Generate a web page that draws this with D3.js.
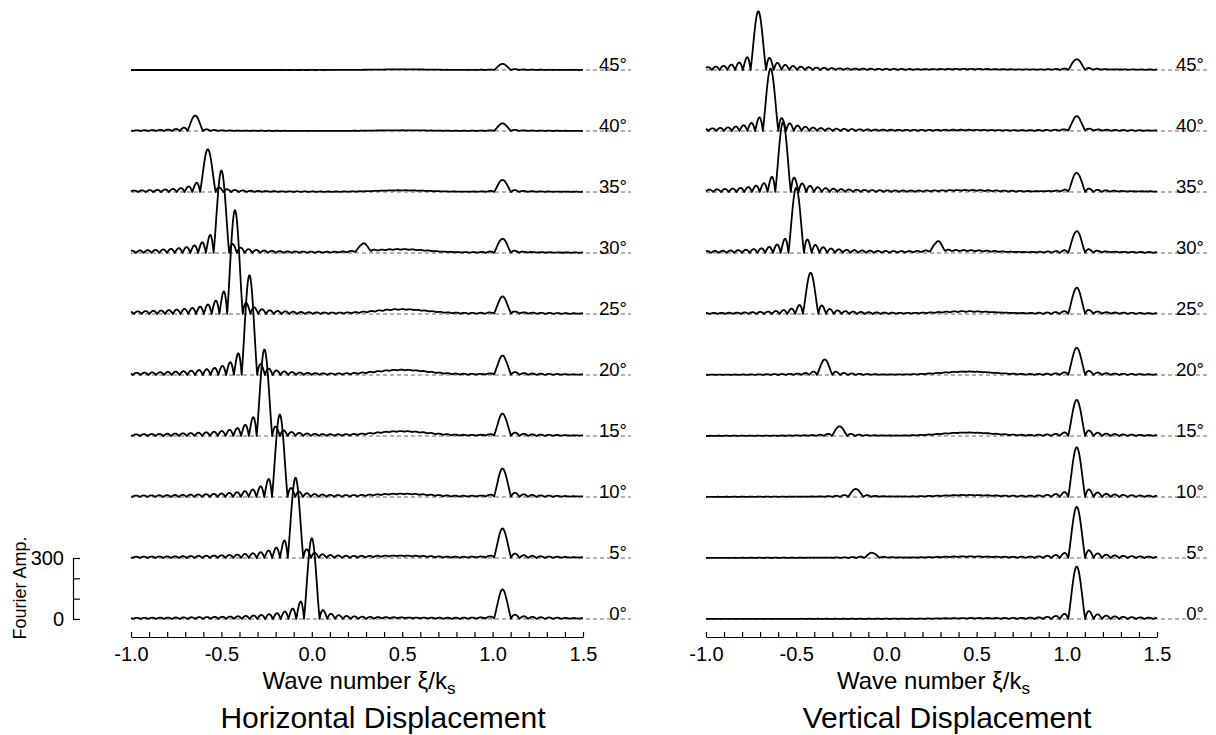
<!DOCTYPE html>
<html>
<head>
<meta charset="utf-8">
<script src="https://cdn.jsdelivr.net/npm/d3@7"></script>
<style>
  body { margin: 0; background: #fff; }
  svg text { font-family: "Liberation Sans", Arial, Helvetica, sans-serif; fill: #000; }
</style>
</head>
<body>
<svg id="chart" width="1216" height="735"></svg>
<script>
// ---- data -------------------------------------------------------------
// incidence angles (deg), one spectrum per angle, stacked bottom to top
const angles = [0, 5, 10, 15, 20, 25, 30, 35, 40, 45];

// Horizontal displacement: incident-wave peak (position, amplitude)
const hPeakPos  = [0.0, -0.09, -0.177, -0.262, -0.345, -0.425, -0.5, -0.575, -0.645, -0.71];
const hPeakAmp  = [396, 394, 405, 425, 490, 510, 405, 210, 76, 0];
// surface-wave peak near xi/ks = 1.055
const hRefAmp   = [143, 143, 138, 108, 93, 84, 69, 59, 37, 30];
// broad low hump around xi/ks = 0.5
const hHumpAmp  = [2, 7, 12, 20, 22, 20, 15, 7, 3, 3];
// small secondary peak near xi/ks = 0.285
const hSmallAmp = [0, 0, 0, 0, 0, 0, 40, 0, 0, 0];

// Vertical displacement
const vPeakPos  = [0.0, -0.08, -0.17, -0.26, -0.342, -0.42, -0.5, -0.573, -0.642, -0.71];
const vPeakAmp  = [0, 25, 39, 47, 76, 202, 320, 342, 307, 288];
const vRefAmp   = [258, 251, 244, 177, 133, 128, 106, 93, 71, 52];
const vHumpAmp  = [2, 5, 7, 15, 15, 10, 7, 5, 2, 2];
const vSmallAmp = [0, 0, 0, 0, 0, 0, 50, 0, 0, 0];

const refPos = 1.055;
const smallPos = 0.285;

// axis ticks
const xTickLabels = [-1.0, -0.5, 0.0, 0.5, 1.0, 1.5];
const ampTicks = [0, 100, 200, 300];
const ampTickLabels = [0, 300];

// ---- layout -------------------------------------------------------------
const svg = d3.select("#chart");
const yBase = d3.scaleLinear().domain([0, 45]).range([619, 70]);
const amp = d3.scaleLinear().domain([0, 300]).range([0, 61]);
const axisY = 637;

const panels = [
  { x0: 131, x1: 583, labelEnd: 627, dashEnd: 631, title: "Horizontal Displacement", titleX: 383,
    pos: hPeakPos, peak: hPeakAmp, ref: hRefAmp, hump: hHumpAmp, small: hSmallAmp,
    humpC: 0.5, humpW: 0.2, mainLobes: [1.0, 0.5], refLobes: [0.35, 0.65] },
  { x0: 706, x1: 1157, labelEnd: 1204, dashEnd: 1208, title: "Vertical Displacement", titleX: 947,
    pos: vPeakPos, peak: vPeakAmp, ref: vRefAmp, hump: vHumpAmp, small: vSmallAmp,
    humpC: 0.45, humpW: 0.2, mainLobes: [1.0, 0.95], refLobes: [0.45, 0.7] }
];

// line shape of a spectral peak from a finite record: |sinc|, with
// separately weighted left/right side lobes
function lobe(u, lf, rf) {
  if (Math.abs(u) < 1e-9) return 1;
  const v = Math.abs(Math.sin(Math.PI * u) / (Math.PI * u));
  if (u < -1) return v * lf;
  if (u > 1) return v * rf;
  return v;
}

const grid = d3.range(-1, 1.5 + 1e-9, 0.001);

panels.forEach(p => {
  const x = d3.scaleLinear().domain([-1, 1.5]).range([p.x0, p.x1]);
  const g = svg.append("g");

  // dashed zero lines
  angles.forEach(a => {
    g.append("line")
      .attr("x1", p.x0).attr("x2", p.dashEnd)
      .attr("y1", yBase(a)).attr("y2", yBase(a))
      .attr("stroke", "#666").attr("stroke-width", 1)
      .attr("stroke-dasharray", "4,3");
  });

  // spectra
  angles.forEach((a, i) => {
    const comps = [
      { c: p.pos[i], a: p.peak[i], w: 0.043, lf: p.mainLobes[0], rf: p.mainLobes[1] },
      { c: refPos, a: p.ref[i], w: 0.047, lf: p.refLobes[0], rf: p.refLobes[1] },
      { c: smallPos, a: p.small[i], w: 0.043, lf: 0.6, rf: 0.6 }
    ];
    const pts = grid.map(xi => {
      let v = 0;
      comps.forEach(c => { if (c.a > 0) v += c.a * lobe((xi - c.c) / c.w, c.lf, c.rf); });
      v += p.hump[i] * Math.exp(-Math.pow((xi - p.humpC) / p.humpW, 2));
      return [xi, v];
    });
    const y0 = yBase(a);
    g.append("path")
      .attr("d", d3.line().x(d => x(d[0])).y(d => y0 - amp(d[1]))(pts))
      .attr("fill", "none").attr("stroke", "#000")
      .attr("stroke-width", 1.8).attr("stroke-linejoin", "round");

    g.append("text")
      .attr("x", p.labelEnd).attr("y", y0 + 1)
      .attr("text-anchor", "end").style("font-size", "18.5px")
      .text(a + "°");
  });

  // x axis: ticks every 0.1, labels every 0.5
  const axis = d3.axisBottom(x)
    .tickValues(x.ticks(25))
    .tickSizeInner(-5).tickSizeOuter(0).tickPadding(10)
    .tickFormat(d => xTickLabels.some(t => Math.abs(t - d) < 1e-6) ? d.toFixed(1) : "");
  const ax = g.append("g").attr("transform", `translate(0,${axisY})`).call(axis);
  ax.select(".domain").attr("stroke", "#000").attr("stroke-width", 1.2);
  ax.selectAll(".tick line").attr("stroke", "#000").attr("stroke-width", 1.2);
  ax.selectAll(".tick text").style("font-size", "20px")
    .style("font-family", '"Liberation Sans", Arial, sans-serif');

  // axis title
  const t = g.append("text")
    .attr("x", (p.x0 + p.x1) / 2 + 2).attr("y", 689)
    .attr("text-anchor", "middle").style("font-size", "24px");
  t.append("tspan").text("Wave number ξ/k");
  t.append("tspan").attr("dy", 5).style("font-size", "17px").text("s");

  g.append("text")
    .attr("x", p.titleX).attr("y", 728)
    .attr("text-anchor", "middle").style("font-size", "30px")
    .text(p.title);
});

// amplitude scale bar
const ampScale = d3.scaleLinear().domain([0, 300]).range([619, 558]);
const ay = d3.axisLeft(ampScale)
  .tickValues(ampTicks).tickSizeInner(-7).tickSizeOuter(0).tickPadding(9)
  .tickFormat(d => ampTickLabels.includes(d) ? String(d) : "");
const ag = svg.append("g").attr("transform", "translate(73,0)").call(ay);
ag.select(".domain").attr("stroke", "#000").attr("stroke-width", 1.2);
ag.selectAll(".tick line").attr("stroke", "#000").attr("stroke-width", 1.2);
ag.selectAll(".tick text").style("font-size", "20px")
  .style("font-family", '"Liberation Sans", Arial, sans-serif');

svg.append("text")
  .attr("transform", "translate(26,588) rotate(-90)")
  .attr("text-anchor", "middle").style("font-size", "18px")
  .text("Fourier Amp.");
</script>
</body>
</html>
